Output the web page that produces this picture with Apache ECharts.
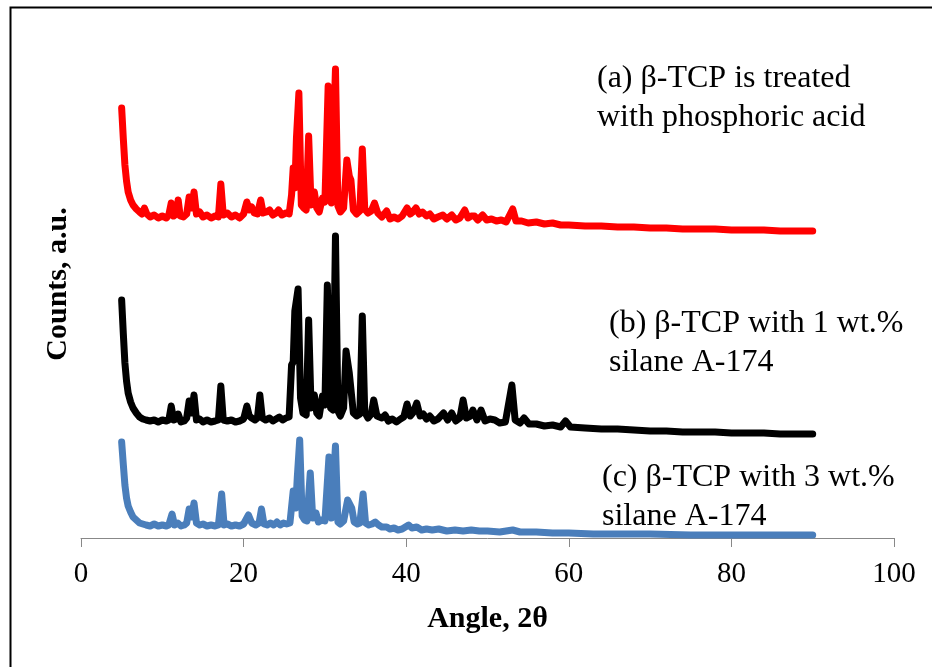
<!DOCTYPE html>
<html>
<head>
<meta charset="utf-8">
<script src="https://cdn.jsdelivr.net/npm/echarts@6/dist/echarts.min.js"></script>
<style>
html,body{margin:0;padding:0;background:#fff;}
#chart{width:932px;height:667px;}
</style>
</head>
<body>
<div id="chart"></div>
<script>
// X-axis ticks (2θ)
const xTicks = [0, 20, 40, 60, 80, 100];

// Series labels
const labelA = ['(a) β-TCP is treated', 'with phosphoric acid'];
const labelB = ['(b) β-TCP with 1 wt.%', 'silane A-174'];
const labelC = ['(c) β-TCP with 3 wt.%', 'silane A-174'];

// (a) β-TCP treated with phosphoric acid  — [2θ, counts (offset, a.u.)]
const patternA = [[5.0,430],[5.2,400],[5.4,373],[5.6,357],[5.8,346],[6.1,338],[6.4,333],[6.8,329],[7.2,326],[7.5,324],[7.8,330],[8.1,324],[8.5,321],[9.0,323],[9.5,320],[10.0,322],[10.5,320],[10.8,323],[11.1,335],[11.4,322],[11.7,324],[11.95,338],[12.2,322],[12.6,321],[13.0,324],[13.3,341],[13.6,330],[13.9,346],[14.2,324],[14.6,326],[15.0,321],[15.5,323],[16.0,320],[16.5,322],[16.9,321],[17.2,354],[17.5,323],[18.0,325],[18.5,321],[19.0,323],[19.5,320],[20.0,324],[20.4,336],[20.7,328],[21.0,331],[21.3,325],[21.7,324],[22.1,338],[22.4,325],[22.8,326],[23.2,328],[23.6,323],[24.0,325],[24.3,328],[24.7,323],[25.2,325],[25.6,324],[25.9,343],[26.1,370],[26.3,350],[26.5,400],[26.8,445],[27.1,333],[27.4,330],[27.7,328],[28.0,402],[28.3,333],[28.7,346],[29.0,330],[29.3,326],[29.7,340],[30.0,336],[30.4,452],[30.8,335],[31.0,333],[31.3,469],[31.6,332],[31.9,326],[32.3,330],[32.7,378],[33.0,362],[33.2,358],[33.5,328],[33.9,324],[34.3,327],[34.6,389],[34.9,329],[35.3,325],[35.7,327],[36.1,335],[36.5,325],[37.0,321],[37.6,327],[38.0,319],[38.5,321],[39.0,319],[39.5,322],[40.1,330],[40.5,324],[40.8,326],[41.2,330],[41.6,324],[42.0,326],[42.5,322],[42.9,324],[43.4,319],[43.9,321],[44.5,323],[45.0,319],[45.6,323],[46.1,318],[46.6,320],[47.2,328],[47.6,320],[48.0,322],[48.4,322],[48.8,318],[49.4,323],[49.9,318],[50.5,319],[51.1,317],[51.7,318],[52.3,316],[53.1,329],[53.5,317],[54.2,317],[55.0,315],[56.0,316],[57.0,314],[58.0,315],[59.0,313],[60.0,313],[62.0,312],[64.0,312],[66.0,311],[68.0,311],[70.0,310],[72.0,310],[74.0,309],[76.0,309],[78.0,309],[80.0,308],[82.0,308],[84.0,308],[86.0,307],[88.0,307],[90.0,307]];

// (b) β-TCP with 1 wt.% silane A-174
const patternB = [[5.0,238],[5.2,205],[5.4,175],[5.6,157],[5.8,145],[6.1,136],[6.4,130],[6.8,125],[7.2,121],[7.6,119],[8.0,118],[8.5,117],[9.0,118],[9.5,116],[10.0,118],[10.5,117],[10.8,118],[11.1,132],[11.4,118],[11.7,119],[11.95,124],[12.3,116],[12.7,117],[13.0,120],[13.3,137],[13.6,125],[13.9,143],[14.2,118],[14.6,119],[15.0,116],[15.5,118],[16.0,116],[16.5,117],[16.9,118],[17.2,152],[17.5,118],[18.0,117],[18.5,118],[19.0,116],[19.5,117],[20.0,119],[20.4,132],[20.7,122],[21.0,120],[21.4,118],[21.7,120],[22.0,143],[22.3,120],[22.7,118],[23.2,120],[23.6,117],[24.0,119],[24.4,121],[24.8,118],[25.2,120],[25.6,121],[25.9,173],[26.1,176],[26.3,227],[26.7,249],[27.0,140],[27.3,125],[27.7,123],[28.0,218],[28.3,130],[28.7,143],[29.0,125],[29.3,122],[29.7,142],[30.0,133],[30.3,253],[30.7,130],[31.0,128],[31.3,302],[31.6,127],[31.9,122],[32.3,130],[32.6,187],[33.0,165],[33.2,163],[33.5,125],[33.9,122],[34.3,124],[34.6,222],[34.9,126],[35.3,120],[35.7,124],[36.0,138],[36.4,122],[37.0,120],[37.4,123],[37.8,117],[38.3,119],[38.8,116],[39.3,119],[39.7,121],[40.1,134],[40.5,122],[40.9,126],[41.3,135],[41.7,122],[42.1,124],[42.5,119],[42.9,122],[43.4,117],[43.9,119],[44.6,125],[45.1,118],[45.6,125],[46.1,117],[46.6,120],[47.0,138],[47.4,120],[47.9,122],[48.2,128],[48.7,118],[49.2,128],[49.7,117],[50.3,119],[50.9,118],[51.5,115],[52.2,116],[53.0,153],[53.4,118],[54.0,115],[54.5,120],[55.1,114],[56.0,114],[57.0,112],[58.0,113],[59.0,111],[59.6,117],[60.2,111],[62.0,110],[64.0,109],[66.0,109],[68.0,108],[70.0,107],[72.0,107],[74.0,106],[76.0,106],[78.0,106],[80.0,105],[82.0,105],[84.0,105],[86.0,104],[88.0,104],[90.0,104]];

// (c) β-TCP with 3 wt.% silane A-174
const patternC = [[5.0,96],[5.2,74],[5.4,53],[5.6,40],[5.8,32],[6.1,26],[6.4,21],[6.8,18],[7.2,15],[7.6,14],[8.0,13],[8.5,12],[9.0,14],[9.5,12],[10.0,13],[10.5,12],[10.8,13],[11.2,24],[11.5,13],[11.9,15],[12.3,12],[12.7,13],[13.0,15],[13.3,29],[13.6,21],[13.9,35],[14.2,15],[14.6,13],[15.0,14],[15.5,12],[16.0,13],[16.5,12],[16.9,13],[17.3,44],[17.6,13],[18.0,14],[18.5,12],[19.0,13],[19.5,12],[20.0,14],[20.6,23],[21.0,15],[21.5,13],[21.9,15],[22.2,29],[22.5,14],[22.9,13],[23.3,15],[23.7,13],[24.1,16],[24.5,13],[24.9,15],[25.3,14],[25.7,15],[26.1,47],[26.4,30],[26.6,60],[26.9,98],[27.2,22],[27.5,18],[27.8,17],[28.2,65],[28.5,20],[28.9,25],[29.2,16],[29.6,18],[30.0,17],[30.5,81],[30.8,20],[31.0,18],[31.3,92],[31.6,16],[31.9,14],[32.3,17],[32.8,38],[33.3,30],[33.6,16],[34.0,14],[34.3,15],[34.7,44],[35.0,15],[35.4,13],[35.8,14],[36.2,16],[36.6,13],[37.0,11],[37.6,11],[38.0,9],[38.5,10],[39.0,8],[39.5,9],[40.3,13],[40.7,10],[41.3,11],[41.9,8],[42.5,9],[43.2,8],[44.0,9],[45.0,7],[46.0,8],[47.0,7],[48.0,8],[49.0,7],[50.0,7],[51.5,6],[53.1,8],[54.0,6],[56.0,6],[58.0,5],[60.0,5],[63.0,4],[66.0,4],[70.0,4],[75.0,3],[80.0,3],[85.0,3],[90.0,3]];

const SERIF = "'Liberation Serif','Times New Roman',serif";
const chart = echarts.init(document.getElementById('chart'), null, {renderer: 'canvas'});

function lineSeries(name, data, color) {
  return {
    name: name, type: 'line', data: data, showSymbol: false, symbol: 'none',
    smooth: false, clip: false,
    lineStyle: {color: color, width: 7, cap: 'round', join: 'round'},
    emphasis: {disabled: true}
  };
}

chart.setOption({
  animation: false,
  backgroundColor: '#ffffff',
  grid: {left: 81, right: 38, top: 18, bottom: 129},
  xAxis: {
    type: 'value', min: xTicks[0], max: xTicks[xTicks.length - 1], interval: 20,
    name: 'Angle, 2θ', nameLocation: 'middle', nameGap: 66,
    nameTextStyle: {fontFamily: SERIF, fontWeight: 'bold', fontSize: 30, color: '#000'},
    axisLine: {show: true, onZero: false, lineStyle: {color: '#888888', width: 1}},
    axisTick: {show: true, inside: false, length: 9, lineStyle: {color: '#888888', width: 1}},
    axisLabel: {fontFamily: SERIF, fontSize: 29, color: '#000', margin: 22},
    splitLine: {show: false}
  },
  yAxis: {
    type: 'value', min: 0, max: 520,
    name: 'Counts, a.u.', nameLocation: 'middle', nameGap: 8, nameRotate: 90,
    nameTextStyle: {fontFamily: SERIF, fontWeight: 'bold', fontSize: 30, color: '#000', padding: [0, 12, 0, 0]},
    axisLine: {show: false}, axisTick: {show: false}, axisLabel: {show: false},
    splitLine: {show: false}
  },
  series: [
    lineSeries(labelA.join(' '), patternA, '#ff0000'),
    lineSeries(labelB.join(' '), patternB, '#000000'),
    lineSeries(labelC.join(' '), patternC, '#4a7ebb')
  ],
  graphic: [
    {type: 'rect', left: 8, top: 5, silent: true,
     shape: {width: 1000, height: 1000},
     style: {fill: 'none', stroke: '#000', lineWidth: 2}},
    {type: 'text', left: 597, top: 59,
     style: {text: labelA.join('\n'), font: '32px ' + SERIF, fill: '#000', lineHeight: 39}},
    {type: 'text', left: 609, top: 304,
     style: {text: labelB.join('\n'), font: '32px ' + SERIF, fill: '#000', lineHeight: 39}},
    {type: 'text', left: 602, top: 458,
     style: {text: labelC.join('\n'), font: '32px ' + SERIF, fill: '#000', lineHeight: 39}}
  ]
});
</script>
</body>
</html>
